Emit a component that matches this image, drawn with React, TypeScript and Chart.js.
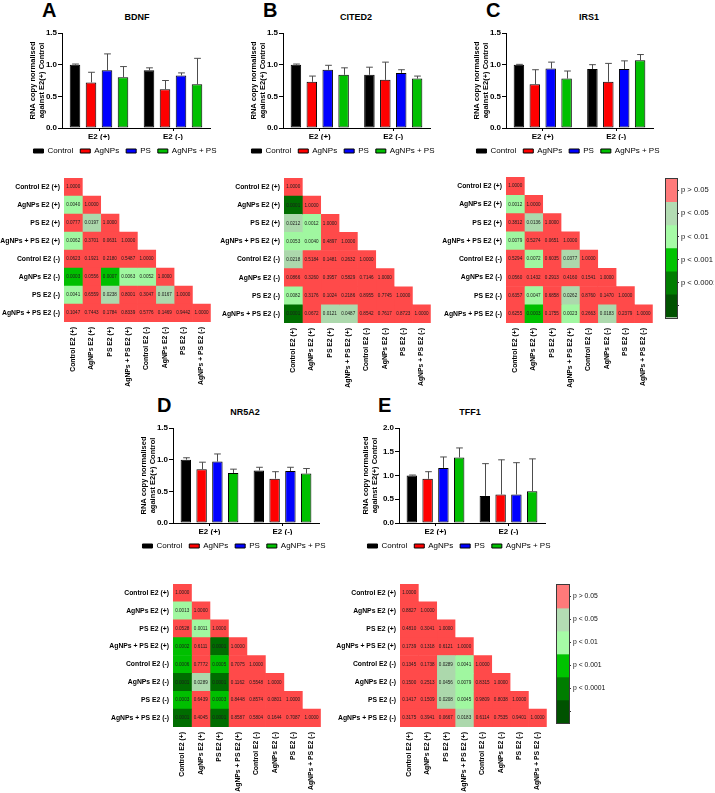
import React, { useEffect, useRef } from 'react';
import { Chart, registerables } from 'chart.js';

Chart.register(...registerables);

const FONT = "'Liberation Sans', Arial, Helvetica, sans-serif";

// ---- shared categories ----
const GROUPS = ['E2 (+)', 'E2 (-)'];
const TREATMENTS = ['Control', 'AgNPs', 'PS', 'AgNPs + PS'];
const TREATMENT_COLORS = ['#000000', '#ff0000', '#0000ff', '#00c000'];
const MATRIX_LABELS = [
  'Control E2 (+)', 'AgNPs E2 (+)', 'PS E2 (+)', 'AgNPs + PS E2 (+)',
  'Control E2 (-)', 'AgNPs E2 (-)', 'PS E2 (-)', 'AgNPs + PS E2 (-)',
];
const SIG_LABELS = ['p > 0.05', 'p < 0.05', 'p < 0.01', 'p < 0.001', 'p < 0.0001', ''];
const SIG_SCALE_COLORS = ['#ff7a7a', '#b3dcb3', '#a6fba6', '#00c300', '#007d00', '#005200'];
const CELL_COLORS = ['#ff4a4a', '#acd8ac', '#a0f7a0', '#00bf00', '#006d00'];
const Y_TITLE = ['RNA copy normalised', 'against E2(+) Control'];

// ---- mean RNA copy (rows: Control, AgNPs, PS, AgNPs + PS; cols: E2(+), E2(-)) ----
const BDNF_MEAN = [[1.0, 0.91], [0.72, 0.61], [0.91, 0.83], [0.8, 0.69]];
const BDNF_SD = [[0.01, 0.04], [0.16, 0.14], [0.26, 0.04], [0.17, 0.41]];
const CITED2_MEAN = [[1.0, 0.84], [0.73, 0.76], [0.92, 0.87], [0.84, 0.78]];
const CITED2_SD = [[0.01, 0.12], [0.09, 0.28], [0.07, 0.05], [0.11, 0.04]];
const IRS1_MEAN = [[1.0, 0.93], [0.69, 0.73], [0.94, 0.93], [0.78, 1.07]];
const IRS1_SD = [[0.005, 0.07], [0.23, 0.29], [0.1, 0.13], [0.12, 0.09]];
const NR5A2_MEAN = [[1.0, 0.83], [0.85, 0.7], [0.97, 0.82], [0.79, 0.78]];
const NR5A2_SD = [[0.03, 0.05], [0.11, 0.11], [0.12, 0.06], [0.06, 0.08]];
const TFF1_MEAN = [[1.0, 0.57], [0.93, 0.6], [1.16, 0.6], [1.38, 0.67]];
const TFF1_SD = [[0.01, 0.68], [0.15, 0.73], [0.23, 0.67], [0.2, 0.68]];

// ---- pairwise p values (lower triangle, order of MATRIX_LABELS) ----
const BDNF_P = [
  [1.0],
  [0.004, 1.0],
  [0.0777, 0.0197, 1.0],
  [0.0062, 0.3701, 0.0631, 1.0],
  [0.0623, 0.1921, 0.218, 0.5487, 1.0],
  [0.0003, 0.0556, 0.0007, 0.0063, 0.0052, 1.0],
  [0.0041, 0.6559, 0.0238, 0.8001, 0.3047, 0.0167, 1.0],
  [0.1047, 0.7443, 0.1784, 0.8339, 0.5776, 0.1469, 0.9442, 1.0],
];
const CITED2_P = [
  [1.0],
  [0.0001, 1.0],
  [0.0212, 0.0012, 1.0],
  [0.0053, 0.004, 0.4897, 1.0],
  [0.0218, 0.5184, 0.1481, 0.2632, 1.0],
  [0.0866, 0.326, 0.3957, 0.5829, 0.7146, 1.0],
  [0.0082, 0.3176, 0.1024, 0.2186, 0.8955, 0.7745, 1.0],
  [0.0001, 0.0672, 0.0121, 0.0487, 0.8542, 0.7617, 0.8723, 1.0],
];
const IRS1_P = [
  [1.0],
  [0.0012, 1.0],
  [0.3812, 0.0136, 1.0],
  [0.0079, 0.5274, 0.0651, 1.0],
  [0.5294, 0.0072, 0.6035, 0.0377, 1.0],
  [0.056, 0.1432, 0.2913, 0.416, 0.1541, 1.0],
  [0.6357, 0.0047, 0.6858, 0.0262, 0.876, 0.147, 1.0],
  [0.6255, 0.0003, 0.1755, 0.0023, 0.2663, 0.0183, 0.2379, 1.0],
];
const NR5A2_P = [
  [1.0],
  [0.0013, 1.0],
  [0.0528, 0.0011, 1.0],
  [0.0002, 0.6111, 0.0001, 1.0],
  [0.0006, 0.7772, 0.0005, 0.7075, 1.0],
  [0.0001, 0.0289, 0.0001, 0.1162, 0.5548, 1.0],
  [0.0003, 0.6439, 0.0003, 0.8448, 0.8574, 0.0801, 1.0],
  [0.0001, 0.4045, 0.0001, 0.8587, 0.5804, 0.1644, 0.7087, 1.0],
];
const TFF1_P = [
  [1.0],
  [0.8827, 1.0],
  [0.481, 0.3041, 1.0],
  [0.1739, 0.1318, 0.6121, 1.0],
  [0.1345, 0.1738, 0.0289, 0.0041, 1.0],
  [0.15, 0.2513, 0.0456, 0.0079, 0.8315, 1.0],
  [0.1417, 0.1509, 0.0208, 0.0045, 0.9809, 0.8038, 1.0],
  [0.3175, 0.3941, 0.0667, 0.0183, 0.6114, 0.7535, 0.9401, 1.0],
];

function sigColor(p: number): string {
  if (p > 0.05) return CELL_COLORS[0];
  if (p > 0.01) return CELL_COLORS[1];
  if (p > 0.001) return CELL_COLORS[2];
  if (p > 0.0001) return CELL_COLORS[3];
  return CELL_COLORS[4];
}

// ---- plugins ----
const errorBars = {
  id: 'errorBars',
  afterDatasetsDraw(chart: any) {
    const { ctx } = chart;
    const yScale = chart.scales.y;
    ctx.save();
    ctx.strokeStyle = '#4d4d4d';
    ctx.lineWidth = 1;
    chart.data.datasets.forEach((ds: any, i: number) => {
      const meta = chart.getDatasetMeta(i);
      meta.data.forEach((bar: any, k: number) => {
        const top = yScale.getPixelForValue(ds.data[k] + ds.sd[k]);
        const x = Math.round(bar.x) + 0.5;
        const cap = bar.width * 0.32;
        ctx.beginPath();
        ctx.moveTo(x, bar.y);
        ctx.lineTo(x, top);
        ctx.moveTo(x - cap, top);
        ctx.lineTo(x + cap, top);
        ctx.stroke();
      });
    });
    ctx.restore();
  },
};

const cellValues = {
  id: 'cellValues',
  afterDatasetsDraw(chart: any, _args: any, opts: any) {
    const values: number[][] = opts.values || [];
    const { ctx } = chart;
    const { x, y } = chart.scales;
    ctx.save();
    ctx.font = `4.6px ${FONT}`;
    ctx.fillStyle = '#1c1c1c';
    ctx.textAlign = 'center';
    ctx.textBaseline = 'middle';
    values.forEach((row, i) =>
      row.forEach((v, j) => {
        ctx.fillText(v.toFixed(4), x.getPixelForValue(j + 0.5), y.getPixelForValue(i));
      })
    );
    ctx.restore();
  },
};

const outline = {
  id: 'outline',
  afterDatasetsDraw(chart: any) {
    const { ctx, chartArea: a } = chart;
    ctx.save();
    ctx.strokeStyle = '#3a3a3a';
    ctx.lineWidth = 1;
    ctx.strokeRect(Math.round(a.left) - 0.5, Math.round(a.top) - 0.5, Math.round(a.right - a.left) + 1, Math.round(a.bottom - a.top) + 1);
    ctx.restore();
  },
};

// ---- layout ----
type BarGeom = { areaL: number; areaR: number; areaT: number; areaB: number; labelX: number; legendCx: number; legendCy: number };
type HeatGeom = { areaL: number; areaR: number; areaT: number; areaB: number };

const TITLE_FONT = 7.5;
const TITLE_LH = 1.15;
const BAR_CANVAS_W = 214;

function barBox(g: BarGeom) {
  const cl = Math.round(g.legendCx - BAR_CANVAS_W / 2);
  const ct = g.areaT - 8;
  const ch = g.legendCy + 14 - ct;
  const cw = BAR_CANVAS_W;
  return {
    left: cl, top: ct, width: cw, height: ch,
    titlePad: Math.max(0, g.labelX - (TITLE_FONT * TITLE_LH) / 2 - cl),
    yAxisW: g.areaL - cl,
    rightW: cl + cw - g.areaR,
    xAxisH: ct + ch - 25 - g.areaB,
  };
}

function barConfig(g: BarGeom, means: number[][], sds: number[][], yMax: number) {
  const b = barBox(g);
  return {
    type: 'bar',
    data: {
      labels: GROUPS,
      datasets: TREATMENTS.map((t, i) => ({
        label: t,
        data: means[i],
        sd: sds[i],
        backgroundColor: TREATMENT_COLORS[i],
        borderColor: '#000',
        borderWidth: 1,
        borderSkipped: false,
        barPercentage: 0.66,
        categoryPercentage: 0.865,
      })),
    },
    options: {
      responsive: false,
      animation: false,
      events: [],
      layout: { padding: { left: 0, right: 0, top: 8, bottom: 0 } },
      plugins: {
        legend: {
          position: 'bottom',
          labels: { boxWidth: 10, boxHeight: 4, padding: 7, color: '#000', font: { family: FONT, size: 8 } },
        },
        tooltip: { enabled: false },
      },
      scales: {
        x: {
          grid: { drawOnChartArea: false, offset: false, tickLength: 3, color: '#000' },
          border: { color: '#000', width: 1 },
          ticks: { color: '#000', padding: 1, maxRotation: 0, font: { family: FONT, size: 8, weight: 'bold' } },
          afterFit: (s: any) => { s.height = b.xAxisH; },
        },
        y: {
          min: 0,
          max: yMax,
          ticks: { stepSize: 0.5, color: '#000', padding: 1, font: { family: FONT, size: 8, weight: 'bold' }, callback: (v: any) => Number(v).toFixed(1) },
          grid: { drawOnChartArea: false, tickLength: 4, color: '#000' },
          border: { color: '#000', width: 1 },
          title: {
            display: true, text: Y_TITLE, color: '#000',
            padding: { top: b.titlePad, bottom: 0 },
            font: { family: FONT, size: TITLE_FONT, weight: 'bold', lineHeight: TITLE_LH },
          },
          afterFit: (s: any) => { s.width = b.yAxisW; },
        },
        // empty right-hand gutter so the legend can span the full canvas width
        gutter: {
          type: 'linear',
          position: 'right',
          grid: { display: false, drawTicks: false },
          ticks: { display: false },
          border: { display: false },
          afterFit: (s: any) => { s.width = b.rightW; },
        },
      },
    },
    plugins: [errorBars],
  };
}

function heatBox(g: HeatGeom) {
  const cl = Math.max(0, g.areaL - 72);
  const ct = g.areaT - 4;
  const cw = g.areaR + 4 - cl;
  const ch = Math.min(793, g.areaB + 66) - ct;
  return { left: cl, top: ct, width: cw, height: ch, yAxisW: g.areaL - cl, xAxisH: ct + ch - g.areaB };
}

function heatConfig(g: HeatGeom, pvals: number[][]) {
  const b = heatBox(g);
  const n = MATRIX_LABELS.length;
  const labelFont = { family: FONT, size: 6.8, weight: 'bold' };
  return {
    type: 'bar',
    data: {
      labels: MATRIX_LABELS,
      datasets: MATRIX_LABELS.map((name, j) => ({
        label: name,
        data: MATRIX_LABELS.map((_, i) => (j <= i ? [j, j + 1] : null)),
        backgroundColor: MATRIX_LABELS.map((_, i) => (j <= i ? sigColor(pvals[i][j]) : 'rgba(0,0,0,0)')),
        borderWidth: 0,
        grouped: false,
        barPercentage: 1,
        categoryPercentage: 1,
      })),
    },
    options: {
      indexAxis: 'y',
      responsive: false,
      animation: false,
      events: [],
      layout: { padding: { left: 0, right: 4, top: 4, bottom: 0 } },
      plugins: { legend: { display: false }, tooltip: { enabled: false }, cellValues: { values: pvals } },
      scales: {
        x: {
          type: 'linear',
          min: 0,
          max: n,
          afterBuildTicks: (s: any) => { s.ticks = MATRIX_LABELS.map((_, j) => ({ value: j + 0.5 })); },
          ticks: { autoSkip: false, minRotation: 90, maxRotation: 90, padding: 5, color: '#000', font: labelFont, callback: (_v: any, i: number) => MATRIX_LABELS[i] },
          grid: { display: false, drawTicks: false },
          border: { display: false },
          afterFit: (s: any) => { s.height = b.xAxisH; },
        },
        y: {
          ticks: { autoSkip: false, padding: 4, color: '#000', font: labelFont },
          grid: { display: false, drawTicks: false },
          border: { display: false },
          afterFit: (s: any) => { s.width = b.yAxisW; },
        },
      },
    },
    plugins: [cellValues],
  };
}

function scaleConfig(barW: number, width: number, fontSize: number) {
  return {
    type: 'bar',
    data: {
      labels: [''],
      datasets: SIG_SCALE_COLORS.map((c, k) => ({
        label: SIG_LABELS[k],
        data: [[k, k + 1]],
        backgroundColor: c,
        borderWidth: 0,
        grouped: false,
        barPercentage: 1,
        categoryPercentage: 1,
      })),
    },
    options: {
      responsive: false,
      animation: false,
      events: [],
      layout: { padding: { left: 1, right: 0, top: 1, bottom: 1 } },
      plugins: { legend: { display: false }, tooltip: { enabled: false } },
      scales: {
        x: { display: false },
        y: {
          type: 'linear',
          position: 'right',
          reverse: true,
          min: 0,
          max: SIG_LABELS.length,
          afterBuildTicks: (s: any) => { s.ticks = SIG_LABELS.map((_, k) => ({ value: k + 0.5 })); },
          ticks: { padding: 2, color: '#111', font: { family: FONT, size: fontSize }, callback: (_v: any, i: number) => SIG_LABELS[i] },
          grid: { drawOnChartArea: false, tickLength: 2, color: '#333' },
          border: { display: false },
          afterFit: (s: any) => { s.width = width - barW - 1; },
        },
      },
    },
    plugins: [outline],
  };
}

// ---- components ----
function ChartCanvas({ left, top, width, height, make }: { left: number; top: number; width: number; height: number; make: () => any }) {
  const ref = useRef<HTMLCanvasElement>(null);
  useEffect(() => {
    const chart = new Chart(ref.current as HTMLCanvasElement, make());
    return () => chart.destroy();
  }, []);
  return (
    <canvas
      ref={ref}
      width={width}
      height={height}
      style={{ position: 'absolute', left, top, width, height }}
    />
  );
}

function BarPanel({ g, means, sds, yMax }: { g: BarGeom; means: number[][]; sds: number[][]; yMax: number }) {
  const b = barBox(g);
  return <ChartCanvas left={b.left} top={b.top} width={b.width} height={b.height} make={() => barConfig(g, means, sds, yMax)} />;
}

function HeatPanel({ g, pvals }: { g: HeatGeom; pvals: number[][] }) {
  const b = heatBox(g);
  return <ChartCanvas left={b.left} top={b.top} width={b.width} height={b.height} make={() => heatConfig(g, pvals)} />;
}

function ScaleBar({ left, top, barW, barH, width, fontSize }: { left: number; top: number; barW: number; barH: number; width: number; fontSize: number }) {
  return <ChartCanvas left={left - 1} top={top - 1} width={width} height={barH + 2} make={() => scaleConfig(barW, width, fontSize)} />;
}

function Letter({ x, y, text }: { x: number; y: number; text: string }) {
  return (
    <div style={{ position: 'absolute', left: x, top: y, font: `bold 20px ${FONT}`, lineHeight: '20px', color: '#000' }}>{text}</div>
  );
}

function Title({ cx, cy, text }: { cx: number; cy: number; text: string }) {
  return (
    <div style={{ position: 'absolute', left: cx - 50, top: cy - 5, width: 100, textAlign: 'center', font: `bold 9px ${FONT}`, lineHeight: '10px', color: '#000' }}>{text}</div>
  );
}

const GEO_A: BarGeom = { areaL: 62, areaR: 210, areaT: 33, areaB: 128, labelX: 33, legendCx: 124.5, legendCy: 151 };
const GEO_B: BarGeom = { areaL: 283, areaR: 430, areaT: 33, areaB: 128, labelX: 254, legendCx: 342.5, legendCy: 151 };
const GEO_C: BarGeom = { areaL: 506, areaR: 653, areaT: 33, areaB: 128, labelX: 477, legendCx: 567.5, legendCy: 151 };
const GEO_D: BarGeom = { areaL: 173, areaR: 319, areaT: 428, areaB: 523, labelX: 144, legendCx: 233.5, legendCy: 546 };
const GEO_E: BarGeom = { areaL: 399, areaR: 545, areaT: 428, areaB: 523, labelX: 366, legendCx: 458.5, legendCy: 546 };

const HEAT_A: HeatGeom = { areaL: 64, areaR: 211, areaT: 174, areaB: 322 };
const HEAT_B: HeatGeom = { areaL: 284, areaR: 431, areaT: 174, areaB: 323 };
const HEAT_C: HeatGeom = { areaL: 506, areaR: 653, areaT: 173, areaB: 323 };
const HEAT_D: HeatGeom = { areaL: 173, areaR: 321, areaT: 580, areaB: 727 };
const HEAT_E: HeatGeom = { areaL: 400, areaR: 547, areaT: 580, areaB: 727 };

export default function App() {
  return (
    <div style={{ position: 'absolute', left: 0, top: 0, width: 715, height: 793, background: '#fff', overflow: 'hidden' }}>
      <Letter x={42} y={0} text="A" />
      <Letter x={263} y={0} text="B" />
      <Letter x={486} y={0} text="C" />
      <Letter x={157} y={395} text="D" />
      <Letter x={378} y={395} text="E" />

      <Title cx={137} cy={17} text="BDNF" />
      <Title cx={356} cy={17} text="CITED2" />
      <Title cx={589} cy={17} text="IRS1" />
      <Title cx={245} cy={412} text="NR5A2" />
      <Title cx={470} cy={412} text="TFF1" />

      <BarPanel g={GEO_A} means={BDNF_MEAN} sds={BDNF_SD} yMax={1.5} />
      <BarPanel g={GEO_B} means={CITED2_MEAN} sds={CITED2_SD} yMax={1.5} />
      <BarPanel g={GEO_C} means={IRS1_MEAN} sds={IRS1_SD} yMax={1.5} />
      <BarPanel g={GEO_D} means={NR5A2_MEAN} sds={NR5A2_SD} yMax={1.5} />
      <BarPanel g={GEO_E} means={TFF1_MEAN} sds={TFF1_SD} yMax={2.0} />

      <HeatPanel g={HEAT_A} pvals={BDNF_P} />
      <HeatPanel g={HEAT_B} pvals={CITED2_P} />
      <HeatPanel g={HEAT_C} pvals={IRS1_P} />
      <HeatPanel g={HEAT_D} pvals={NR5A2_P} />
      <HeatPanel g={HEAT_E} pvals={TFF1_P} />

      <ScaleBar left={666} top={173} barW={11} barH={150} width={49} fontSize={7.6} />
      <ScaleBar left={557} top={580} barW={12} barH={148} width={60} fontSize={6.8} />
    </div>
  );
}
